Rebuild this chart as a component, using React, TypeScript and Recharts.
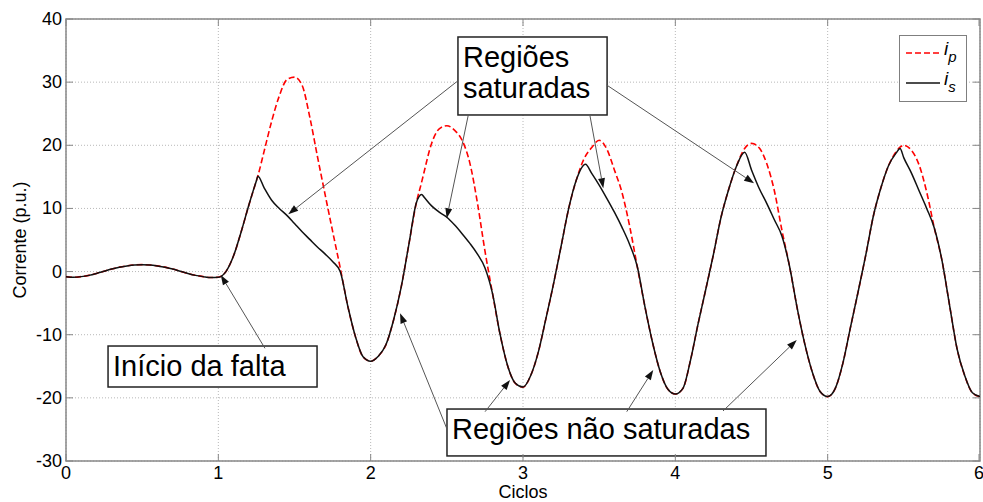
import React from 'react';
import {
  LineChart,
  Line,
  XAxis,
  YAxis,
  CartesianGrid,
  Legend,
  ReferenceArea,
  ReferenceLine,
} from 'recharts';

const FONT = '"Liberation Sans", Arial, Helvetica, sans-serif';

const WIDTH = 983;
const HEIGHT = 502;
const PLOT_LEFT = 66;
const PLOT_TOP = 19;
const PLOT_RIGHT = 980;
const PLOT_BOTTOM = 461;
const TICK_LEN = 7;
const AXIS_COLOR = '#888888';

const xTicks = [0, 1, 2, 3, 4, 5, 6];
const yTicks = [-30, -20, -10, 0, 10, 20, 30, 40];

// time in cycles (extra samples where i_s saturates)
const cycles = [
  0, 0.05, 0.1, 0.15, 0.2, 0.25, 0.3, 0.35, 0.4, 0.45, 0.5, 0.55, 0.6, 0.65, 0.7, 0.75, 0.8, 0.85, 0.9, 0.95,
  1, 1.05, 1.1, 1.15, 1.2, 1.25, 1.26, 1.3, 1.35, 1.4, 1.45, 1.5, 1.55, 1.6, 1.65, 1.7, 1.75, 1.8, 1.85, 1.9, 1.95,
  2, 2.05, 2.1, 2.15, 2.2, 2.25, 2.3, 2.335, 2.35, 2.4, 2.45, 2.5, 2.55, 2.6, 2.65, 2.7, 2.75, 2.8, 2.85, 2.9, 2.95,
  3, 3.05, 3.1, 3.15, 3.2, 3.25, 3.3, 3.35, 3.41, 3.45, 3.5, 3.55, 3.6, 3.65, 3.7, 3.75, 3.8, 3.85, 3.9, 3.95,
  4, 4.05, 4.1, 4.15, 4.2, 4.25, 4.3, 4.35, 4.4, 4.455, 4.5, 4.55, 4.6, 4.65, 4.7, 4.75, 4.8, 4.85, 4.9, 4.95,
  5, 5.05, 5.1, 5.15, 5.2, 5.25, 5.3, 5.35, 5.4, 5.45, 5.475, 5.5, 5.55, 5.6, 5.65, 5.7, 5.75, 5.8, 5.85, 5.9, 5.95, 6,
];

// primary current referred to secondary (p.u.)
const ipValues = [
  -0.8, -0.9, -0.8, -0.6, -0.3, 0.05, 0.4, 0.7, 0.9, 1.05, 1.1, 1.05, 0.9, 0.7, 0.4, 0.05, -0.3, -0.6, -0.8, -0.95,
  -0.9, 0.0, 2.5, 6.3, 10.5, 14.4, 15.2, 19.0, 23.8, 27.8, 30.4, 30.8, 29.5, 24.5, 18.3, 12.3, 6.4, 0.6, -5.5, -10.3, -13.5,
  -14.2, -13.4, -11.6, -7.7, -2.5, 4.2, 10.9, 14.2, 15.7, 20.3, 22.6, 23.1, 22.4, 20.8, 17.3, 11.0, 3.3, -3.5, -10.0, -15.0, -17.7,
  -18.3, -16.5, -12.8, -7.5, -2.0, 4.0, 10.0, 14.5, 18.3, 19.6, 20.8, 19.4, 16.1, 12.5, 7.2, 0.8, -5.5, -11.2, -15.8, -18.6,
  -19.4, -18.5, -14.0, -8.2, -2.8, 2.7, 8.6, 13.0, 16.6, 19.5, 20.3, 19.6, 17.1, 12.8, 6.5, 0.8, -5.8, -11.5, -16.0, -19.0,
  -19.8, -18.5, -14.5, -8.8, -3.2, 2.6, 8.8, 13.3, 16.8, 19.0, 19.7, 20.0, 19.2, 16.9, 12.6, 6.9, 1.8, -5.3, -12.3, -16.5, -19.2, -19.8,
];

// secondary current (p.u.)
const isValues = [
  -0.8, -0.9, -0.8, -0.6, -0.3, 0.05, 0.4, 0.7, 0.9, 1.05, 1.1, 1.05, 0.9, 0.7, 0.4, 0.05, -0.3, -0.6, -0.8, -0.95,
  -0.9, 0.0, 2.5, 6.3, 10.5, 14.4, 15.1, 13.3, 11.3, 10.0, 8.9, 7.6, 6.3, 5.1, 3.9, 2.8, 1.6, 0.0, -5.5, -10.3, -13.5,
  -14.2, -13.4, -11.6, -7.7, -2.5, 4.2, 10.9, 12.2, 11.8, 10.4, 9.4, 8.6, 7.4, 6.0, 4.5, 2.8, 0.6, -3.5, -10.0, -15.0, -17.7,
  -18.3, -16.5, -12.8, -7.5, -2.0, 4.0, 10.0, 14.5, 17.0, 15.6, 13.7, 11.6, 9.4, 7.0, 4.3, 0.8, -5.5, -11.2, -15.8, -18.6,
  -19.4, -18.5, -14.0, -8.2, -2.8, 2.7, 8.6, 13.0, 16.6, 18.9, 16.1, 13.2, 10.8, 8.2, 5.6, 0.8, -5.8, -11.5, -16.0, -19.0,
  -19.8, -18.5, -14.5, -8.8, -3.2, 2.6, 8.8, 13.3, 16.8, 18.8, 19.5, 18.0, 15.6, 12.8, 10.0, 6.9, 1.8, -5.3, -12.3, -16.5, -19.2, -19.8,
];

const data = cycles.map((cycle, i) => ({ cycle, ip: ipValues[i], is: isValues[i] }));

// text boxes, in axis units
const notes = [
  { lines: ['Regiões', 'saturadas'], x1: 2.573, x2: 3.552, y1: 24.8, y2: 37.15 },
  { lines: ['Início da falta'], x1: 0.276, x2: 1.648, y1: -18.28, y2: -11.79 },
  { lines: ['Regiões não saturadas'], x1: 2.501, x2: 4.595, y1: -29.2, y2: -21.77 },
];

// arrows from the boxes to the curves: [from, to]
const arrows = [
  [{ x: 2.565, y: 30.07 }, { x: 1.459, y: 9.07 }],
  [{ x: 2.641, y: 24.8 }, { x: 2.499, y: 8.44 }],
  [{ x: 3.44, y: 24.64 }, { x: 3.527, y: 13.19 }],
  [{ x: 3.549, y: 29.55 }, { x: 4.517, y: 13.98 }],
  [{ x: 1.306, y: -12.15 }, { x: 1.016, y: -0.54 }],
  [{ x: 2.499, y: -24.82 }, { x: 2.193, y: -6.61 }],
  [{ x: 2.751, y: -22.19 }, { x: 2.915, y: -17.17 }],
  [{ x: 3.681, y: -22.19 }, { x: 3.855, y: -15.59 }],
  [{ x: 4.313, y: -22.08 }, { x: 4.797, y: -10.84 }],
];

const XTick = (props: any) => {
  const { x, payload } = props;
  return (
    <g>
      <line x1={x} y1={PLOT_BOTTOM} x2={x} y2={PLOT_BOTTOM - TICK_LEN} stroke={AXIS_COLOR} />
      <line x1={x} y1={PLOT_TOP} x2={x} y2={PLOT_TOP + TICK_LEN} stroke={AXIS_COLOR} />
      <text x={x} y={PLOT_BOTTOM + 18} textAnchor="middle" fontSize={18} fontFamily={FONT} fill="#000">
        {payload.value}
      </text>
    </g>
  );
};

const YTick = (props: any) => {
  const { y, payload } = props;
  return (
    <g>
      <line x1={PLOT_LEFT} y1={y} x2={PLOT_LEFT + TICK_LEN} y2={y} stroke={AXIS_COLOR} />
      <line x1={PLOT_RIGHT} y1={y} x2={PLOT_RIGHT - TICK_LEN} y2={y} stroke={AXIS_COLOR} />
      <text x={PLOT_LEFT - 4} y={y + 6} textAnchor="end" fontSize={18} fontFamily={FONT} fill="#000">
        {payload.value}
      </text>
    </g>
  );
};

const Arrow = (props: any) => {
  const { x1, y1, x2, y2 } = props;
  const ang = Math.atan2(y2 - y1, x2 - x1);
  const len = 10;
  const half = 3.5;
  const bx = x2 - len * Math.cos(ang);
  const by = y2 - len * Math.sin(ang);
  const px = -Math.sin(ang) * half;
  const py = Math.cos(ang) * half;
  return (
    <g>
      <line x1={x1} y1={y1} x2={bx} y2={by} stroke="#555" strokeWidth={1} />
      <polygon points={`${x2},${y2} ${bx + px},${by + py} ${bx - px},${by - py}`} fill="#111" />
    </g>
  );
};

const noteShape = (lines: string[]) => (props: any) => {
  const { x, y, width, height } = props;
  return (
    <g>
      <rect x={x} y={y} width={width} height={height} fill="#fff" stroke="#222" strokeWidth={1.5} />
      {lines.map((t, i) => (
        <text key={t} x={x + 5} y={y + 30 + i * 31} fontSize={29} fontFamily={FONT} fill="#000">
          {t}
        </text>
      ))}
    </g>
  );
};

const LegendBox = (props: any) => {
  const items = props.payload || [];
  return (
    <svg width={68} height={67} style={{ display: 'block' }}>
      <rect x={0.5} y={0.5} width={67} height={66} fill="#fff" stroke="#7f7f7f" />
      {items.map((item: any, i: number) => {
        const [base, sub] = String(item.value).split('_');
        const cy = 18 + i * 30;
        return (
          <g key={item.value}>
            <line
              x1={7}
              y1={cy}
              x2={41}
              y2={cy}
              stroke={item.color}
              strokeWidth={1.5}
              strokeDasharray={item.payload?.strokeDasharray}
            />
            <text x={45} y={cy + 2} fontSize={19} fontStyle="italic" fontFamily={FONT} fill="#000">
              {base}
              <tspan dy={7} fontSize={15}>
                {sub}
              </tspan>
            </text>
          </g>
        );
      })}
    </svg>
  );
};

export default function App() {
  return (
    <div style={{ position: 'absolute', left: 0, top: 0, width: WIDTH, height: HEIGHT, background: '#fff' }}>
      <LineChart
        width={WIDTH}
        height={HEIGHT}
        data={data}
        margin={{ top: PLOT_TOP, right: WIDTH - PLOT_RIGHT, left: 0, bottom: 0 }}
      >
        <CartesianGrid stroke="#b8b8b8" strokeDasharray="1 2" />
        <XAxis
          type="number"
          dataKey="cycle"
          domain={[0, 6]}
          ticks={xTicks}
          allowDataOverflow
          height={HEIGHT - PLOT_BOTTOM}
          axisLine={false}
          tickLine={false}
          tick={<XTick />}
          label={() => (
            <text
              x={PLOT_LEFT + (PLOT_RIGHT - PLOT_LEFT) / 2}
              y={HEIGHT - 4}
              textAnchor="middle"
              fontSize={18}
              fontFamily={FONT}
              fill="#000"
            >
              Ciclos
            </text>
          )}
        />
        <YAxis
          type="number"
          domain={[-30, 40]}
          ticks={yTicks}
          allowDataOverflow
          width={PLOT_LEFT}
          axisLine={false}
          tickLine={false}
          tick={<YTick />}
          label={() => (
            <text
              x={20}
              y={(PLOT_TOP + PLOT_BOTTOM) / 2}
              transform={`rotate(-90, 20, ${(PLOT_TOP + PLOT_BOTTOM) / 2})`}
              textAnchor="middle"
              dominantBaseline="central"
              fontSize={18}
              fontFamily={FONT}
              fill="#000"
            >
              Corrente (p.u.)
            </text>
          )}
        />
        <ReferenceArea x1={0} x2={6} y1={-30} y2={40} fill="none" stroke={AXIS_COLOR} strokeWidth={1.5} />
        <Line
          type="monotone"
          dataKey="ip"
          name="i_p"
          stroke="#ff0000"
          strokeWidth={1.6}
          strokeDasharray="6 3"
          dot={false}
          activeDot={false}
          isAnimationActive={false}
        />
        <Line
          type="monotone"
          dataKey="is"
          name="i_s"
          stroke="#111111"
          strokeWidth={1.5}
          dot={false}
          activeDot={false}
          isAnimationActive={false}
        />
        {arrows.map((seg, i) => (
          <ReferenceLine key={`a${i}`} segment={seg} shape={Arrow} />
        ))}
        {notes.map((n) => (
          <ReferenceArea
            key={n.lines.join(' ')}
            x1={n.x1}
            x2={n.x2}
            y1={n.y1}
            y2={n.y2}
            shape={noteShape(n.lines)}
          />
        ))}
        <Legend
          layout="horizontal"
          verticalAlign="middle"
          align="center"
          content={<LegendBox />}
          wrapperStyle={{ left: 899, top: 35, width: 68, height: 67 }}
        />
      </LineChart>
    </div>
  );
}
